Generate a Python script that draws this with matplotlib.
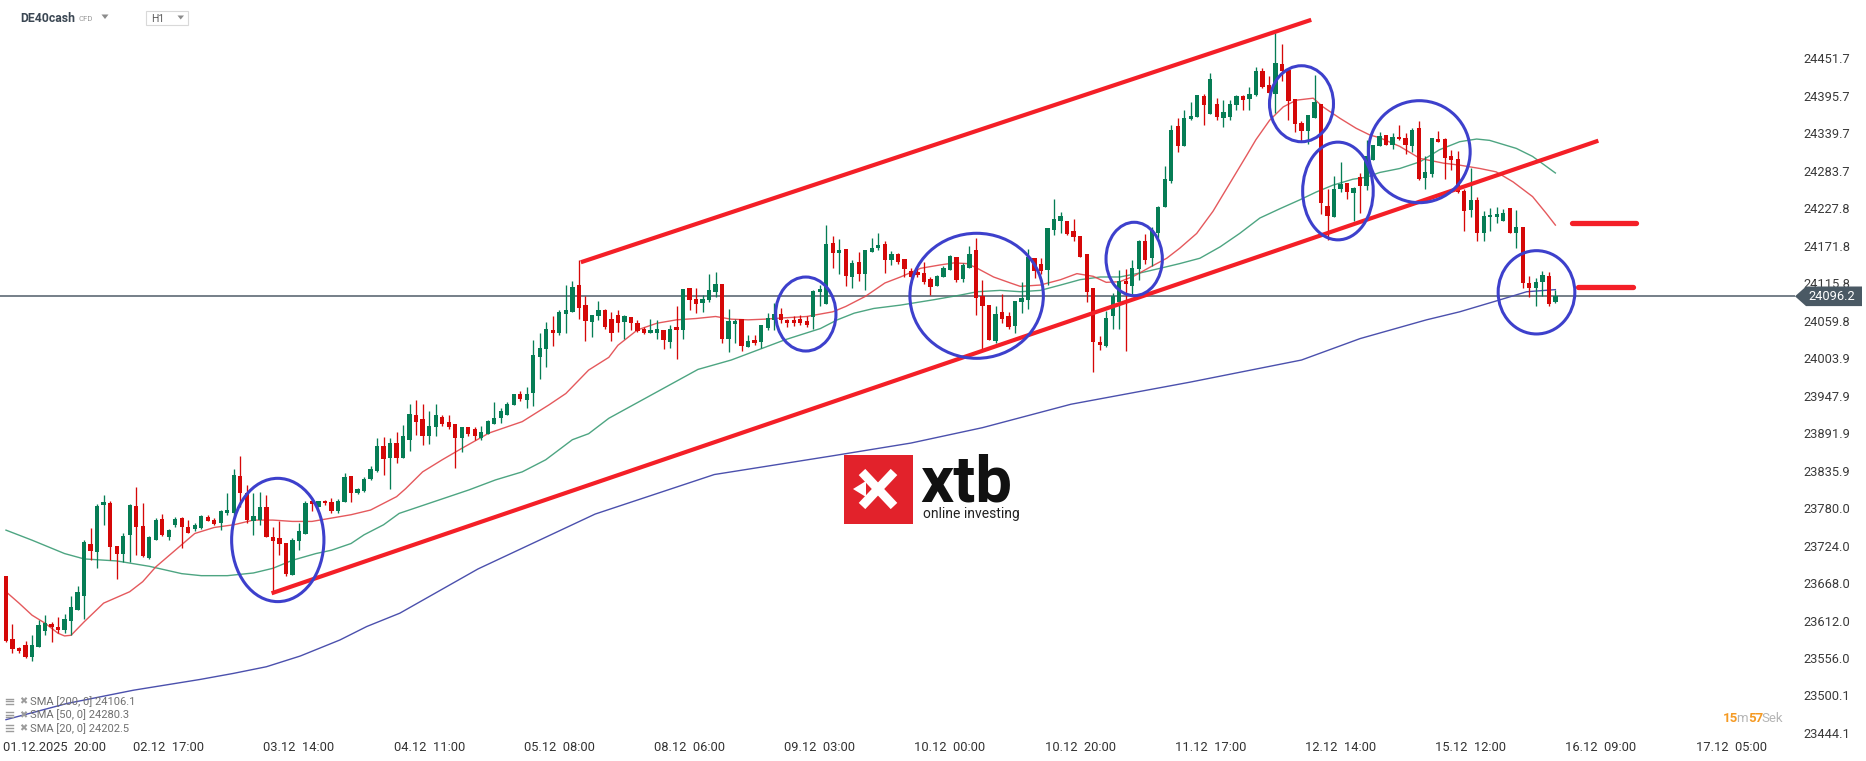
import matplotlib
matplotlib.use("Agg")
import matplotlib.pyplot as plt
from matplotlib.patches import Ellipse, Polygon, Rectangle
from matplotlib.lines import Line2D
import numpy as np

# ---------------- data (hourly candles, DE40cash H1) ----------------
opens = [23678,23584,23571,23576,23558,23573,23597,23607,23602,23598,
         23612,23628,23648,23727,23715,23784,23788,23723,23711,23740,
         23783,23753,23706,23733,23764,23736,23754,23765,23751,23748,
         23750,23766,23762,23757,23773,23773,23828,23802,23761,23762,
         23782,23737,23735,23728,23680,23731,23741,23790,23782,23791,
         23789,23776,23789,23828,23802,23805,23823,23835,23872,23854,
         23877,23854,23882,23919,23913,23888,23901,23916,23908,23905,
         23885,23901,23898,23885,23891,23906,23915,23919,23934,23950,
         23942,23952,24006,24017,24046,24042,24069,24073,24113,24083,
         24058,24066,24076,24062,24068,24058,24065,24056,24048,24042,
         24042,24046,24028,24051,24046,24108,24092,24086,24091,24103,
         24115,24032,24055,24062,24021,24031,24028,24049,24061,24070,
         24061,24061,24062,24059,24065,24103,24085,24176,24161,24167,
         24125,24147,24130,24163,24169,24174,24150,24159,24152,24134,
         24133,24131,24122,24111,24125,24136,24155,24122,24139,24165,
         24097,24083,24029,24072,24067,24052,24087,24090,24154,24144,
         24136,24195,24209,24208,24194,24186,24160,24109,24028,24022,
         24066,24088,24119,24112,24137,24179,24154,24191,24229,24269,
         24350,24320,24361,24364,24395,24368,24383,24363,24364,24382,
         24395,24391,24397,24432,24412,24398,24443,24434,24391,24355,
         24343,24363,24384,24231,24215,24256,24266,24251,24274,24261,
         24299,24321,24337,24322,24334,24332,24321,24347,24273,24279,
         24331,24331,24306,24301,24253,24225,24240,24190,24214,24215,
         24209,24228,24191,24200,24116,24109,24117,24127,24088]
highs = [23679,23607,23573,23582,23590,23613,23620,23610,23617,23622,
         23648,23664,23732,23750,23786,23800,23790,23724,23742,23786,
         23812,23788,23738,23765,23771,23748,23766,23766,23762,23757,
         23770,23770,23765,23777,23802,23838,23857,23814,23802,23804,
         23799,23751,23760,23728,23735,23757,23791,23795,23791,23792,
         23795,23793,23832,23828,23810,23827,23843,23885,23886,23884,
         23893,23904,23935,23941,23935,23925,23935,23919,23919,23905,
         23901,23901,23901,23902,23911,23938,23929,23938,23950,23955,
         23960,24031,24041,24058,24066,24076,24113,24119,24150,24097,
         24068,24089,24077,24073,24075,24068,24065,24061,24050,24063,
         24061,24046,24053,24082,24107,24108,24109,24098,24130,24133,
         24115,24077,24062,24062,24038,24038,24053,24071,24086,24078,
         24063,24066,24068,24066,24106,24113,24203,24186,24181,24167,
         24150,24163,24165,24183,24191,24178,24164,24161,24152,24138,
         24138,24148,24125,24128,24141,24158,24155,24146,24172,24183,
         24121,24083,24082,24099,24073,24089,24117,24167,24154,24153,
         24198,24242,24222,24208,24211,24186,24160,24109,24037,24074,
         24101,24136,24137,24150,24180,24189,24199,24231,24290,24352,
         24362,24374,24387,24397,24398,24430,24393,24390,24390,24397,
         24397,24409,24438,24437,24425,24490,24473,24437,24391,24358,
         24367,24427,24384,24256,24276,24297,24266,24260,24280,24330,
         24322,24342,24337,24340,24352,24340,24348,24358,24305,24332,
         24343,24332,24315,24313,24256,24287,24245,24224,24228,24230,
         24226,24228,24225,24200,24127,24124,24134,24133,24106]
lows = [23580,23564,23564,23556,23552,23573,23590,23580,23594,23593,
        23590,23627,23614,23703,23690,23755,23702,23674,23700,23700,
        23710,23707,23704,23732,23738,23733,23752,23721,23742,23745,
        23748,23760,23755,23747,23770,23765,23782,23757,23740,23755,
        23736,23653,23710,23679,23680,23717,23741,23775,23782,23785,
        23772,23773,23789,23789,23801,23804,23822,23834,23829,23808,
        23847,23854,23865,23889,23874,23876,23888,23903,23898,23840,
        23864,23887,23881,23881,23891,23906,23907,23919,23934,23940,
        23930,23933,23973,23990,24022,24038,24041,24073,24063,24029,
        24036,24061,24048,24030,24043,24033,24046,24043,24040,24041,
        24032,24017,24019,24002,24033,24075,24071,24072,24087,24095,
        24027,24013,24027,24015,24021,24024,24019,24046,24046,24056,
        24051,24052,24053,24050,24047,24082,24085,24139,24130,24112,
        24109,24119,24106,24163,24165,24131,24143,24145,24125,24123,
        24125,24114,24098,24111,24125,24135,24118,24118,24138,24068,
        24016,24031,24026,24056,24048,24042,24071,24077,24123,24130,
        24113,24188,24190,24187,24178,24155,24088,23983,24016,24020,
        24047,24047,24015,24100,24120,24144,24141,24183,24229,24266,
        24312,24320,24360,24364,24352,24368,24359,24349,24359,24375,
        24375,24375,24395,24407,24399,24370,24417,24360,24342,24327,
        24323,24363,24219,24180,24215,24252,24241,24209,24221,24255,
        24299,24321,24322,24316,24330,24309,24312,24270,24257,24275,
        24326,24271,24285,24251,24193,24215,24179,24178,24193,24206,
        24208,24191,24169,24108,24095,24081,24097,24081,24086]
closes = [23581,23570,23566,23558,23576,23605,23609,23602,23598,23615,
          23632,23655,23730,23716,23783,23789,23722,23712,23738,23785,
          23751,23709,23737,23762,23740,23747,23764,23751,23743,23755,
          23768,23761,23756,23775,23777,23829,23802,23762,23768,23782,
          23736,23731,23726,23681,23733,23745,23788,23786,23791,23787,
          23775,23791,23826,23803,23808,23823,23838,23872,23853,23877,
          23854,23888,23921,23909,23888,23903,23919,23906,23901,23885,
          23901,23891,23887,23893,23910,23914,23925,23935,23950,23943,
          23950,24009,24019,24047,24042,24072,24076,24110,24079,24060,
          24068,24076,24050,24041,24057,24066,24056,24045,24041,24046,
          24047,24031,24048,24046,24107,24091,24084,24092,24106,24115,
          24032,24059,24059,24022,24029,24027,24053,24064,24070,24061,
          24057,24057,24057,24054,24104,24107,24174,24161,24165,24126,
          24146,24130,24165,24169,24173,24150,24159,24147,24137,24125,
          24128,24118,24110,24126,24139,24156,24121,24143,24159,24093,
          24082,24031,24069,24062,24051,24089,24094,24155,24134,24134,
          24198,24211,24216,24189,24185,24155,24102,24028,24023,24064,
          24096,24119,24115,24138,24178,24151,24195,24230,24271,24345,
          24320,24363,24365,24397,24382,24420,24364,24371,24383,24395,
          24390,24398,24432,24408,24399,24445,24432,24388,24354,24343,
          24367,24387,24236,24216,24256,24264,24252,24258,24261,24305,
          24322,24335,24322,24334,24331,24322,24344,24271,24282,24332,
          24327,24303,24300,24252,24223,24240,24190,24216,24218,24219,
          24220,24191,24200,24116,24109,24118,24128,24085,24096.2]

# moving averages (bar index, value)
sma20_x = [0,2,4,6,8,9,10,12,15,19,21,23,26,29,32,35,38,41,44,47,50,53,56,60,
           61.4,64,67,70,74.2,79.3,83.4,86,89.5,92.6,94,97,100,103,106,109,111.4,
           114,116.5,119.6,123,127,129,132,135,137.4,140.5,143.5,145.6,147.6,149,
           151.7,154.3,155.8,158.9,162,164.5,167,169,171.1,173.2,175.8,178.3,180.3,
           182.9,185.4,188,190.6,192,194.1,196.2,198.2,200.8,202.3,204.9,207.4,
           209.5,211,214.1,217.2,220.8,223.3,226.4,228.9,231.5,234.5,236.6,238]
sma20_y = [23655,23638,23620,23608,23593,23589,23590,23610,23638,23655,23670,23692,
           23717,23742,23751,23755,23762,23762,23760,23760,23765,23770,23777,23797,
           23809,23834,23852,23869,23892,23909,23934,23951,23986,24005,24023,24046,
           24056,24061,24063,24066,24062,24061,24062,24064,24066,24073,24081,24096,
           24116,24125,24138,24143,24146,24145,24139,24125,24116,24111,24113,24121,
           24130,24126,24117,24118,24126,24140,24153,24168,24190,24223,24265,24307,
           24330,24359,24379,24389,24392,24379,24362,24347,24337,24333,24320,24302,
           24295,24292,24287,24282,24267,24245,24220,24202.5]
sma50_x = [0,4,9,12,17,22,27,30,34,38,41,44,47.6,50,53,55,58,60.4,71.1,75.2,79.3,
           82.9,87,89.5,92.6,106.3,111.4,115.5,119.6,122.5,125.1,127.7,130.3,133.3,
           137.4,142.5,146.6,149.2,152.7,155.8,158.9,162,165,168.1,171.1,174.2,177.3,
           180.3,183.4,186.5,189.5,192.6,195.7,198.7,201.3,203.8,206.9,209,211,214.1,
           217.2,220.2,223.3,225.9,227.9,232,234.5,238]
sma50_y = [23747,23732,23712,23704,23701,23693,23682,23679,23679,23683,23690,23702,
           23712,23717,23727,23740,23755,23772,23807,23822,23834,23852,23882,23891,
           23914,23987,24001,24016,24031,24040,24048,24061,24071,24078,24083,24091,
           24098,24103,24105,24103,24105,24113,24121,24125,24125,24131,24138,24145,
           24153,24170,24190,24213,24227,24240,24252,24262,24271,24274,24281,24287,
           24297,24315,24327,24331,24329,24317,24305,24280.3]
sma200_x = [0,9.3,19.6,29.8,34.9,40,45.2,51.3,55.4,60.5,72.5,90.5,108.8,127,139,150,
            163.6,181.9,199,208,218.2,223.3,228.5,233.6,238]
sma200_y = [23464,23488,23508,23524,23533,23543,23559,23583,23603,23623,23689,23771,
            23830,23858,23877,23900,23935,23968,24001,24033,24061,24073,24088,24103,
            24106.1]

price_ticks = [24451.7,24395.7,24339.7,24283.7,24227.8,24171.8,24115.8,24059.8,
               24003.9,23947.9,23891.9,23835.9,23780.0,23724.0,23668.0,23612.0,
               23556.0,23500.1,23444.1]
time_tick_bars = [7.4,25,45,65,85,105,125,145,165,185,205,225,245,265]
time_labels = ["01.12.2025  20:00","02.12  17:00","03.12  14:00","04.12  11:00",
               "05.12  08:00","08.12  06:00","09.12  03:00","10.12  00:00",
               "10.12  20:00","11.12  17:00","12.12  14:00","15.12  12:00",
               "16.12  09:00","17.12  05:00"]
last_price = 24096.2

# drawn annotations (bar index / price)
channel_upper = ([88.3, 200.5], [24147, 24509])
channel_lower = ([40.8, 244.6], [23652.7, 24328.5])
target_levels = [(240.6, 250.4, 24205), (241.5, 249.9, 24110)]
circles = [(41.75, 23732.3, 14.18, 184.1), (122.86, 24069.7, 9.26, 110.5),
           (149.1, 24096.9, 20.5, 186.7), (173.3, 24151.9, 8.65, 109.6),
           (199.0, 24383.7, 9.83, 113.5), (204.6, 24253.4, 10.84, 145.9),
           (217.1, 24312.1, 15.62, 152.3), (235.1, 24102.1, 11.78, 124.4)]

# ---------------- figure ----------------
W, H = 1866, 761
fig = plt.figure(figsize=(W / 100, H / 100), dpi=100)
fig.patch.set_facecolor("white")

def fx(px):
    return px / W

def fy(py):
    return 1 - py / H

ax_right_px = 1795
ax = fig.add_axes([0, fy(738), ax_right_px / W, 738 / H])
ax.set_facecolor("white")
ax.set_xlim(-0.92, (ax_right_px - 6) / 6.51)
ax.set_ylim(23436.6, 24538.6)
for s in ax.spines.values():
    s.set_visible(False)

GREEN = "#067d55"
RED = "#d50808"

o = np.array(opens, float)
c = np.array(closes, float)
h = np.array(highs, float)
l = np.array(lows, float)
idx = np.arange(len(o))
cols = np.where(c >= o, GREEN, RED)

# moving averages
ax.plot(sma200_x, sma200_y, color="#4b50ad", lw=1.0, zorder=2)
ax.plot(sma50_x, sma50_y, color="#3a9b74", lw=1.0, zorder=2, alpha=0.9)
ax.plot(sma20_x, sma20_y, color="#e2474b", lw=1.0, zorder=2, alpha=0.9)

# last price line
ax.axhline(last_price, color="#4f5d68", lw=1.1, zorder=1.5)

# candles
ax.vlines(idx, l, h, colors=cols, linewidth=0.95, zorder=3)
body_bottom = np.minimum(o, c)
body_h = np.maximum(np.abs(c - o), 1.4)
ax.bar(idx, body_h, bottom=body_bottom, width=0.66, color=cols, linewidth=0, zorder=4)

# channel lines
CH = "#f41f27"
ax.plot(*channel_upper, color=CH, lw=3.0, zorder=5, solid_capstyle="butt")
ax.plot(*channel_lower, color=CH, lw=3.0, zorder=5, solid_capstyle="butt")
for x0, x1, yv in target_levels:
    ax.plot([x0, x1], [yv, yv], color=CH, lw=3.8, zorder=5, solid_capstyle="round")

# blue circles
for cx, cy, w, hh in circles:
    ax.add_patch(Ellipse((cx, cy), w, hh, fill=False, edgecolor="#3d40cc", lw=2.2, zorder=6))

# axes ticks
ax.yaxis.tick_right()
ax.set_yticks(price_ticks)
ax.set_yticklabels([f"{v:.1f}" for v in price_ticks], fontsize=9.3, color="#3a3a3a",
                   family="Roboto")
ax.tick_params(axis="y", length=0, pad=6)
ax.set_xticks(time_tick_bars)
ax.set_xticklabels(time_labels, fontsize=9.3, color="#333333", family="Roboto")
ax.tick_params(axis="x", length=0, pad=2.5)

# last price tag
tag = Polygon([[fx(1795), fy(296.3)], [fx(1806), fy(286.5)], [fx(1862), fy(286.5)],
               [fx(1862), fy(306.1)], [fx(1806), fy(306.1)]], closed=True,
              transform=fig.transFigure, facecolor="#4a5964", edgecolor="none", zorder=10)
fig.add_artist(tag)
fig.text(fx(1832), fy(296.8), f"{last_price:.1f}", color="white", fontsize=9.3,
         family="Roboto", ha="center", va="center", zorder=11)

# header
fig.text(fx(20), fy(18.5), "DE40cash", fontsize=8.8, fontweight="bold", color="#3b4753",
         family="Roboto", va="center")
fig.text(fx(78.5), fy(19), "CFD", fontsize=5.6, color="#9a9a9a", family="Roboto", va="center")
fig.add_artist(Polygon([[fx(101.5), fy(14.5)], [fx(108.5), fy(14.5)], [fx(105), fy(19)]],
                       transform=fig.transFigure, facecolor="#8c8c8c", edgecolor="none"))
fig.add_artist(Rectangle((fx(145.7), fy(25.3)), fx(188.3) - fx(145.7), (25.3 - 10.7) / H,
                         transform=fig.transFigure, facecolor="white", edgecolor="#d9d9d9",
                         lw=0.8))
fig.text(fx(151), fy(19), "H1", fontsize=7.5, color="#5a5a5a", family="Roboto", va="center")
fig.add_artist(Polygon([[fx(177.5), fy(15.5)], [fx(184), fy(15.5)], [fx(180.7), fy(19.5)]],
                       transform=fig.transFigure, facecolor="#8c8c8c", edgecolor="none"))

# SMA legend bottom-left
legend_rows = [("SMA [200, 0] 24106.1", 701.7), ("SMA [50, 0] 24280.3", 715.0),
               ("SMA [20, 0] 24202.5", 728.3)]
for txt, yy in legend_rows:
    for k in range(3):
        fig.add_artist(Line2D([fx(6), fx(13)], [fy(yy - 3 + k * 2.6)] * 2,
                              transform=fig.transFigure, color="#9c9c9c", lw=1.0))
    fig.text(fx(23.5), fy(yy), "\u2716", fontsize=7, color="#9c9c9c",
             family="DejaVu Sans", ha="center", va="center")
    fig.text(fx(30.5), fy(yy), txt, fontsize=8.0, color="#707070", family="Roboto",
             va="center")

# countdown bottom-right
fig.text(fx(1723), fy(718), "15", fontsize=9.5, color="#f59a23", family="Roboto",
         va="center", fontweight="bold")
fig.text(fx(1736.5), fy(718), "m", fontsize=9.5, color="#b5b5b5", family="Roboto", va="center")
fig.text(fx(1748), fy(718), "57", fontsize=9.5, color="#f59a23", family="Roboto",
         va="center", fontweight="bold")
fig.text(fx(1761), fy(718), "Sek", fontsize=9.5, color="#b5b5b5", family="Roboto",
         va="center")

# xtb logo
fig.add_artist(Rectangle((fx(843.7), fy(523.6)), fx(912.8) - fx(843.7), (523.6 - 454.6) / H,
                         transform=fig.transFigure, facecolor="#e2222b", edgecolor="none",
                         zorder=7))
for (a, b), (cc, d) in [((862, 472), (894, 506)), ((862, 506), (894, 472))]:
    fig.add_artist(Line2D([fx(a), fx(cc)], [fy(b), fy(d)], transform=fig.transFigure,
                          color="white", lw=6.5, solid_capstyle="butt", zorder=8))
fig.add_artist(Polygon([[fx(853), fy(489)], [fx(866), fy(481)], [fx(866), fy(497)]],
                       transform=fig.transFigure, facecolor="white", edgecolor="none", zorder=8))
fig.text(fx(920), fy(502), "xtb", fontsize=47, fontweight="bold", color="#111111",
         family="Roboto", va="baseline", zorder=8)
fig.text(fx(923), fy(514), "online investing", fontsize=10, color="#222222",
         family="Roboto", va="center", zorder=8)

fig.savefig("out.png", dpi=100, facecolor="white")
